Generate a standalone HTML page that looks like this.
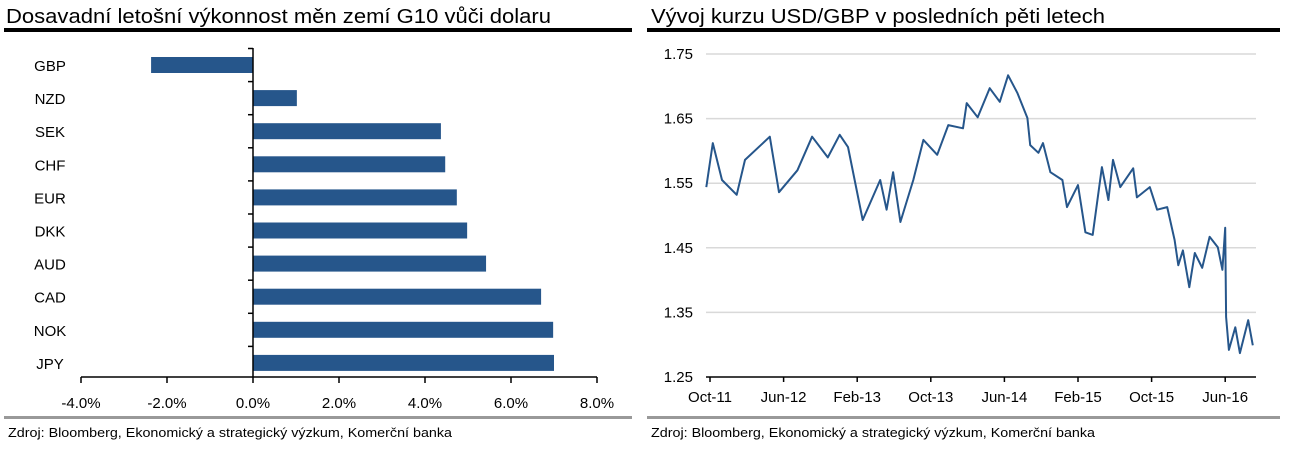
<!DOCTYPE html>
<html><head><meta charset="utf-8"><style>
body{margin:0;background:#fff;width:1289px;height:452px;overflow:hidden;font-family:"Liberation Sans",sans-serif}
svg{position:absolute;left:0;top:0}
text{font-family:"Liberation Sans",sans-serif}
</style></head><body>
<svg id="c" width="1289" height="452">
<text x="6" y="23" font-size="20" textLength="545" lengthAdjust="spacingAndGlyphs" fill="#000">Dosavadní letošní výkonnost měn zemí G10 vůči dolaru</text>
<rect x="4" y="28" width="628" height="4" fill="#000"/>
<text x="651" y="23" font-size="20" textLength="454" lengthAdjust="spacingAndGlyphs" fill="#000">Vývoj kurzu USD/GBP v posledních pěti letech</text>
<rect x="647" y="28" width="633" height="4" fill="#000"/>
<rect x="4" y="416" width="628" height="3" fill="#999"/>
<rect x="647" y="416" width="633" height="3" fill="#999"/>
<text x="8" y="437" font-size="13" textLength="444" lengthAdjust="spacingAndGlyphs" fill="#000">Zdroj: Bloomberg, Ekonomický a strategický výzkum, Komerční banka</text>
<text x="651" y="437" font-size="13" textLength="444" lengthAdjust="spacingAndGlyphs" fill="#000">Zdroj: Bloomberg, Ekonomický a strategický výzkum, Komerční banka</text>
<g id="bars"></g><g id="line"></g>
</svg>
<script>
const categories=["GBP","NZD","SEK","CHF","EUR","DKK","AUD","CAD","NOK","JPY"];
const perf=[-2.37,1.02,4.37,4.47,4.74,4.98,5.42,6.70,6.98,7.0];
const xTicks=[-4,-2,0,2,4,6,8];
const months=[-0.4,0.3,1.3,2.9,3.8,6.5,7.5,9.5,11.1,12.8,14.1,15.0,16.6,18.5,19.2,19.9,20.7,22.1,23.2,24.7,25.9,27.5,27.9,29.1,30.4,31.5,32.4,33.4,34.5,34.8,35.7,36.2,37.0,38.3,38.8,40.0,40.8,41.6,42.6,43.3,43.8,44.6,46.0,46.4,47.8,48.6,49.7,50.5,50.9,51.4,52.1,52.7,53.5,54.3,55.2,55.7,56.0,56.1,56.4,57.1,57.6,58.5,59.0];
const rate=[1.544,1.612,1.555,1.532,1.586,1.622,1.536,1.57,1.622,1.59,1.625,1.606,1.493,1.555,1.509,1.567,1.49,1.555,1.617,1.594,1.64,1.635,1.674,1.652,1.697,1.676,1.717,1.69,1.651,1.609,1.597,1.612,1.567,1.555,1.513,1.547,1.474,1.47,1.575,1.524,1.586,1.544,1.573,1.528,1.544,1.509,1.513,1.462,1.423,1.446,1.389,1.442,1.419,1.467,1.451,1.416,1.481,1.343,1.292,1.327,1.287,1.338,1.299];
const yTicks=[1.25,1.35,1.45,1.55,1.65,1.75];
const dateLabels=["Oct-11","Jun-12","Feb-13","Oct-13","Jun-14","Feb-15","Oct-15","Jun-16"];
const NS="http://www.w3.org/2000/svg";
function mk(tag,attrs,parent,txt){const e=document.createElementNS(NS,tag);for(const k in attrs)e.setAttribute(k,attrs[k]);if(txt!==undefined)e.textContent=txt;parent.appendChild(e);return e;}
const bx=v=>253+v*43, by=i=>65+i*33.1;
const B=document.getElementById('bars');
categories.forEach((c,i)=>{
 const x0=Math.min(bx(0),bx(perf[i])),w=Math.abs(bx(perf[i])-bx(0));
 const r=mk('rect',{x:x0,y:by(i)-8,width:w,height:16,fill:'#26568b'},B);
 
 
 const t=mk('text',{x:50,y:by(i)+6,'font-size':15,'text-anchor':'middle'},B,c);
 
 
 const tk=mk('line',{x1:bx(0)-5,x2:bx(0),y1:by(i)-16.5,y2:by(i)-16.5,stroke:'#000','stroke-width':1.5},B);
 
 
});
let a=mk('line',{x1:bx(0),x2:bx(0),y1:48,y2:377,stroke:'#000','stroke-width':1.5},B);


a=mk('line',{x1:bx(-4),x2:bx(8),y1:377,y2:377,stroke:'#000','stroke-width':1.5},B);


xTicks.forEach(v=>{
 const l=mk('line',{x1:bx(v),x2:bx(v),y1:377,y2:383,stroke:'#000','stroke-width':1.5},B);
 
 
 const t=mk('text',{x:bx(v),y:408,'font-size':15,'text-anchor':'middle'},B,v.toFixed(1)+'%');
 
 
});
const lx=m=>710+m*9.2, ly=v=>54+(1.75-v)*646;
const L=document.getElementById('line');
yTicks.forEach(v=>{
 if(v>1.25){const g=mk('line',{x1:706,x2:1256,y1:ly(v),y2:ly(v),stroke:'#d9d9d9','stroke-width':1.5},L);
 
 }
 const t=mk('text',{x:693,y:ly(v)+5,'font-size':15,'text-anchor':'end'},L,v.toFixed(2));
 
 
});
a=mk('line',{x1:706,x2:1256,y1:377,y2:377,stroke:'#000','stroke-width':1.5},L);


dateLabels.forEach((d,i)=>{
 const x=lx(i*8);
 const l=mk('line',{x1:x,x2:x,y1:377,y2:382,stroke:'#000','stroke-width':1.5},L);
 
 
 const t=mk('text',{x:x,y:402,'font-size':15,'text-anchor':'middle'},L,d);
 
 
});
const p=mk('polyline',{points:months.map((m,i)=>lx(m).toFixed(1)+','+ly(rate[i]).toFixed(1)).join(' '),fill:'none',stroke:'#26568b','stroke-width':2,'stroke-linejoin':'round'},L);


</script>
</body></html>
